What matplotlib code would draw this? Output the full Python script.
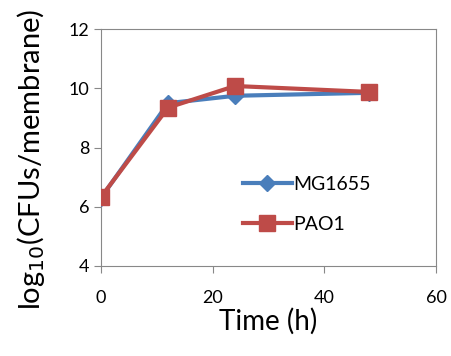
import matplotlib
matplotlib.use('Agg')
from matplotlib import pyplot as plt

plt.rcParams['font.family'] = ['Lato', 'DejaVu Sans']

time_h = [0, 12, 24, 48]
mg1655 = [6.3, 9.5, 9.75, 9.85]
pao1 = [6.33, 9.35, 10.08, 9.88]

fig = plt.figure(figsize=(4.51, 3.56), dpi=100)
ax = fig.add_axes([0.224, 0.253, 0.743, 0.665])

ax.plot(time_h, mg1655, color='#4A7EBB', lw=3, marker='D', ms=8,
        label='MG1655', zorder=3)
ax.plot(time_h, pao1, color='#BE4B48', lw=3, marker='s', ms=11,
        label='PAO1', zorder=4)

ax.set_xlim(0, 60)
ax.set_ylim(4, 12)
ax.set_xticks([0, 20, 40, 60])
ax.set_yticks([4, 6, 8, 10, 12])
for s in ax.spines.values():
    s.set_color('#888888')
ax.tick_params(colors='#888888', labelcolor='black', labelsize=13, length=5,
               direction='out')
ax.tick_params(axis='x', pad=12)
ax.set_xlabel('Time (h)', fontsize=20, labelpad=2)
ax.set_ylabel(r'log$_{10}$(CFUs/membrane)', fontsize=21)
ax.yaxis.set_label_coords(-0.16, 0.45)

ax.legend(loc='center left', bbox_to_anchor=(0.372, 0.26), frameon=False,
          fontsize=14, handlelength=2.5, handletextpad=0.1, labelspacing=1.2)

fig.savefig('out.png', dpi=100)
